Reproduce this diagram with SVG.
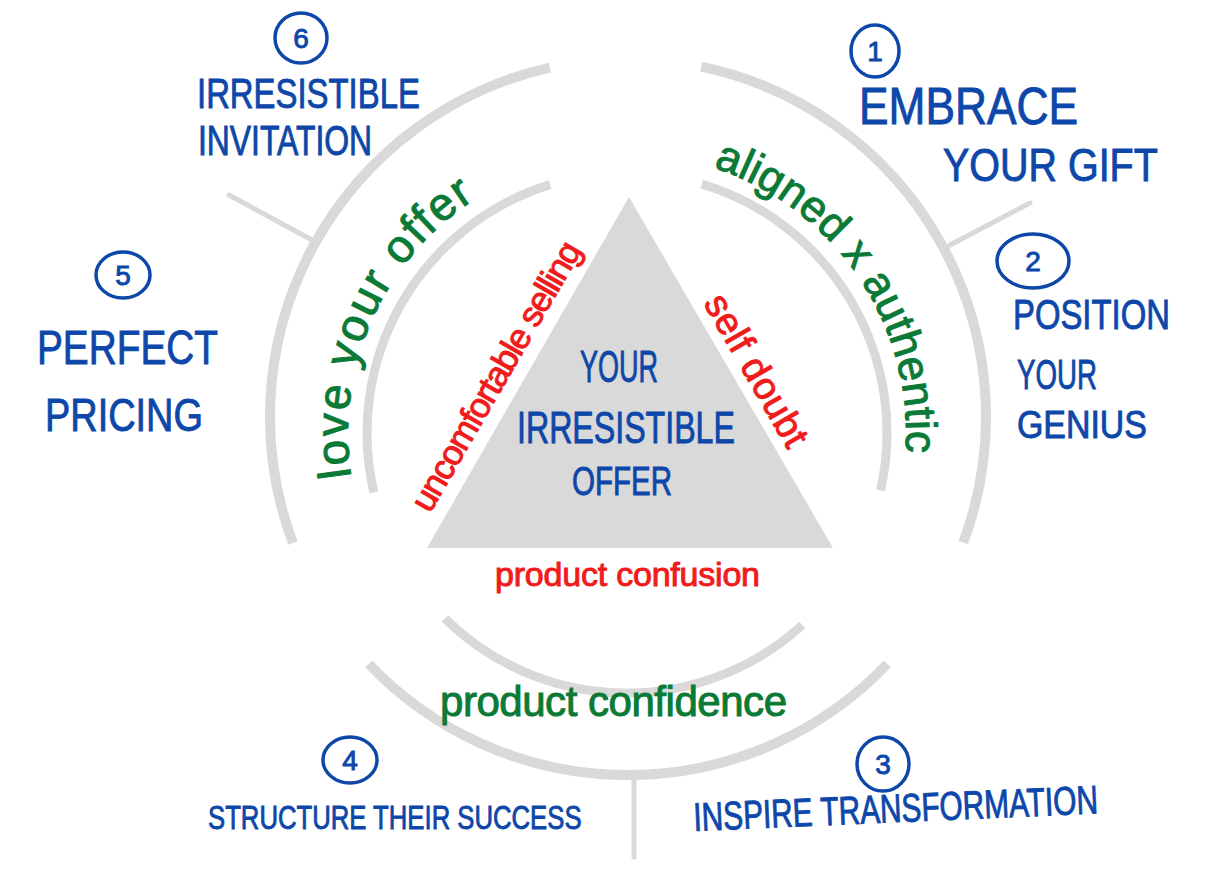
<svg xmlns="http://www.w3.org/2000/svg" width="1216" height="876" viewBox="0 0 1216 876">
<style>
  text { font-family: "Liberation Sans", Arial, sans-serif; }
  .blue { fill: #0d47a9; stroke: #0d47a9; stroke-width: 0.9; }
  .green { fill: #0b7a36; stroke: #0b7a36; stroke-width: 1; }
  .red { fill: #f01c1c; stroke: #f01c1c; stroke-width: 1; }
  .outer { fill: none; stroke: #d9d9d9; stroke-width: 10; }
  .inner { fill: none; stroke: #d9d9d9; stroke-width: 9; }
  .div { fill: none; stroke: #d9d9d9; stroke-width: 5; stroke-linecap: round; }
  .num { fill: none; stroke: #0d47a9; stroke-width: 3.5; }
  .digit { font-size: 28px; text-anchor: middle; }
</style>
<defs>
  <path id="pLove" d="M 351.4 476.6 A 279 279 0 0 1 475.1 199.0"/>
  <path id="pAligned" d="M 713.2 167.6 A 279 279 0 0 1 905.3 452.5"/>
</defs>
<rect width="1216" height="876" fill="#ffffff"/>

<g id="rings">
  <path class="outer" d="M 292.9 542.9 A 358 358 0 0 1 549.9 67.6"/>
  <path class="outer" d="M 701.2 66.6 A 358 358 0 0 1 963.3 542.4"/>
  <path class="outer" d="M 887.3 663.9 A 358 358 0 0 1 368.7 663.9"/>
  <path class="inner" d="M 373.9 492.4 A 260 260 0 0 1 550.1 184.6"/>
  <path class="inner" d="M 701.7 184.0 A 260 260 0 0 1 880.5 490.6"/>
  <path class="inner" d="M 802.3 625.0 A 260 260 0 0 1 444.8 618.5"/>
  <line class="div" x1="312" y1="240" x2="229" y2="195"/>
  <line class="div" x1="950" y1="245" x2="1030" y2="203"/>
  <line class="div" x1="634" y1="780" x2="634" y2="857"/>
</g>

<g id="center">
  <polygon points="629,197 833,548 427,548" fill="#d9d9d9"/>
  <text class="blue" font-size="44" transform="translate(580 382) scale(0.614 1)">YOUR</text>
  <text class="blue" font-size="44" transform="translate(517 443) scale(0.731 1)">IRRESISTIBLE</text>
  <text class="blue" font-size="40" transform="translate(572 495) scale(0.738 1)">OFFER</text>
</g>

<g id="obstacles">
  <text class="red" x="430" y="514" font-size="35" textLength="305" lengthAdjust="spacing" transform="rotate(-60 430 514)">uncomfortable selling</text>
  <text class="red" x="703" y="303" font-size="38" textLength="170" lengthAdjust="spacing" transform="rotate(60 703 303)">self doubt</text>
  <text class="red" x="495" y="586" font-size="34" textLength="265" lengthAdjust="spacing">product confusion</text>
</g>

<g id="outcomes">
  <text class="green" font-size="46"><textPath href="#pLove" textLength="321" lengthAdjust="spacing">love your offer</textPath></text>
  <text class="green" font-size="44"><textPath href="#pAligned" textLength="370" lengthAdjust="spacing">aligned x authentic</textPath></text>
  <text class="green" x="440" y="716" font-size="42" textLength="347" lengthAdjust="spacing">product confidence</text>
</g>

<g id="step1">
  <ellipse class="num" cx="875" cy="51" rx="24" ry="26"/>
  <text class="blue digit" x="875" y="61">1</text>
  <text class="blue" font-size="52" transform="translate(859 124) scale(0.852 1)">EMBRACE</text>
  <text class="blue" font-size="46" transform="translate(943 181) scale(0.858 1)">YOUR GIFT</text>
</g>

<g id="step2">
  <ellipse class="num" cx="1033" cy="261" rx="36" ry="27"/>
  <text class="blue digit" x="1033" y="271">2</text>
  <text class="blue" font-size="42" transform="translate(1013 329) scale(0.782 1)">POSITION</text>
  <text class="blue" font-size="42" transform="translate(1017 389) scale(0.659 1)">YOUR</text>
  <text class="blue" font-size="38" transform="translate(1017 438) scale(0.892 1)">GENIUS</text>
</g>

<g id="step3">
  <ellipse class="num" cx="883" cy="764" rx="26" ry="27"/>
  <text class="blue digit" x="883" y="774">3</text>
  <text class="blue" font-size="40" transform="translate(694 831) rotate(-2.5) scale(0.746 1)">INSPIRE TRANSFORMATION</text>
</g>

<g id="step4">
  <ellipse class="num" cx="350" cy="760" rx="27" ry="23"/>
  <text class="blue digit" x="350" y="770">4</text>
  <text class="blue" font-size="34" transform="translate(208 829) scale(0.756 1)">STRUCTURE THEIR SUCCESS</text>
</g>

<g id="step5">
  <ellipse class="num" cx="123" cy="275" rx="27" ry="23"/>
  <text class="blue digit" x="123" y="285">5</text>
  <text class="blue" font-size="48" transform="translate(37 364) scale(0.808 1)">PERFECT</text>
  <text class="blue" font-size="46" transform="translate(45 431) scale(0.824 1)">PRICING</text>
</g>

<g id="step6">
  <ellipse class="num" cx="301" cy="38" rx="26" ry="25"/>
  <text class="blue digit" x="301" y="48">6</text>
  <text class="blue" font-size="42" transform="translate(197 108) scale(0.783 1)">IRRESISTIBLE</text>
  <text class="blue" font-size="42" transform="translate(198 155) scale(0.759 1)">INVITATION</text>
</g>
</svg>
